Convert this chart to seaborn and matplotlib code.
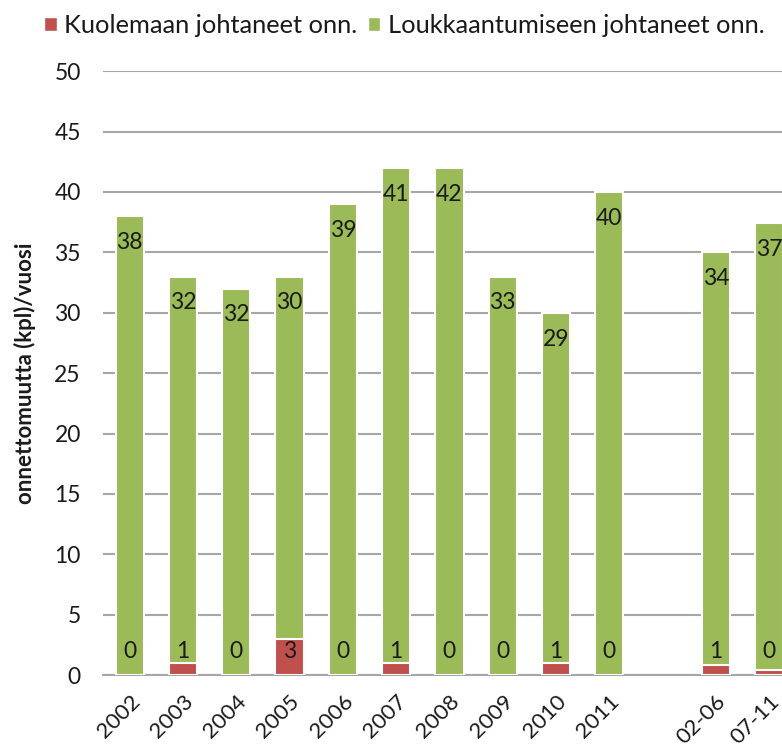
import matplotlib
matplotlib.use("Agg")
import matplotlib.pyplot as plt
import numpy as np
import pandas as pd
import seaborn as sns
from matplotlib.patches import Patch

# data
categories = ["2002", "2003", "2004", "2005", "2006", "2007", "2008", "2009",
              "2010", "2011", " ", "02-06", "07-11"]
fatal = [0, 1, 0, 3, 0, 1, 0, 0, 1, 0, np.nan, 0.8, 0.4]
injury = [38, 32, 32, 30, 39, 41, 42, 33, 29, 40, np.nan, 34.2, 37]

RED = "#C0504D"
GREEN = "#9BBB59"
GRID = "#a6a6a6"

sns.set_theme(style="white")
plt.rcParams["font.family"] = ["Lato", "DejaVu Sans"]

df = pd.DataFrame({"cat": categories, "fatal": fatal, "injury": injury})
df["total"] = df["fatal"] + df["injury"]

fig = plt.figure(figsize=(7.82, 7.5), dpi=100)
ax = fig.add_axes([0.1317, 0.1, 0.886, 0.805])

sns.barplot(data=df, x="cat", y="total", order=categories, color=GREEN,
            saturation=1, width=0.53, edgecolor="white", linewidth=1.5, ax=ax, zorder=3)
sns.barplot(data=df, x="cat", y="fatal", order=categories, color=RED,
            saturation=1, width=0.53, edgecolor="white", linewidth=1.5, ax=ax, zorder=4)

# data labels
for i, row in df.iterrows():
    if np.isnan(row["total"]):
        continue
    ax.annotate(f"{row['injury']:.0f}", (i, row["total"]), xytext=(0, -19),
                textcoords="offset points", ha="center", va="center",
                fontsize=16.5, color="#1a1a1a", zorder=5)
    ax.annotate(f"{row['fatal']:.0f}", (i, 0), xytext=(0, 17),
                textcoords="offset points", ha="center", va="center",
                fontsize=16.5, color="#1a1a1a", zorder=5)

ax.set_ylim(0, 50)
ax.set_xlim(-0.5, len(categories) - 0.5)
ax.set_yticks(range(0, 51, 5))
ax.yaxis.grid(True, color=GRID, linewidth=1.5, zorder=0)
ax.set_axisbelow(True)
for s in ["top", "right", "left"]:
    ax.spines[s].set_visible(False)
ax.spines["bottom"].set_color(GRID)
ax.spines["bottom"].set_linewidth(1.5)
ax.tick_params(axis="y", length=0, pad=16, labelsize=16.5, labelcolor="#1a1a1a")
ax.tick_params(axis="x", length=0, pad=12, labelsize=16, labelcolor="#1a1a1a")
plt.setp(ax.get_xticklabels(), rotation=45, ha="right", rotation_mode="anchor")
ax.set_xlabel("")
ax.set_ylabel("onnettomuutta (kpl)/vuosi", fontsize=16, fontweight="bold",
              color="#1a1a1a", labelpad=13)

handles = [Patch(facecolor=RED, label="Kuolemaan johtaneet onn."),
           Patch(facecolor=GREEN, label="Loukkaantumiseen johtaneet onn.")]
fig.legend(handles=handles, loc="upper left", bbox_to_anchor=(0.027, 1.012),
           ncol=2, frameon=False, fontsize=18.3, handlelength=0.5, handleheight=0.5,
           handletextpad=0.3, columnspacing=0.4, labelcolor="#1a1a1a")

fig.savefig("out.png", dpi=100)
